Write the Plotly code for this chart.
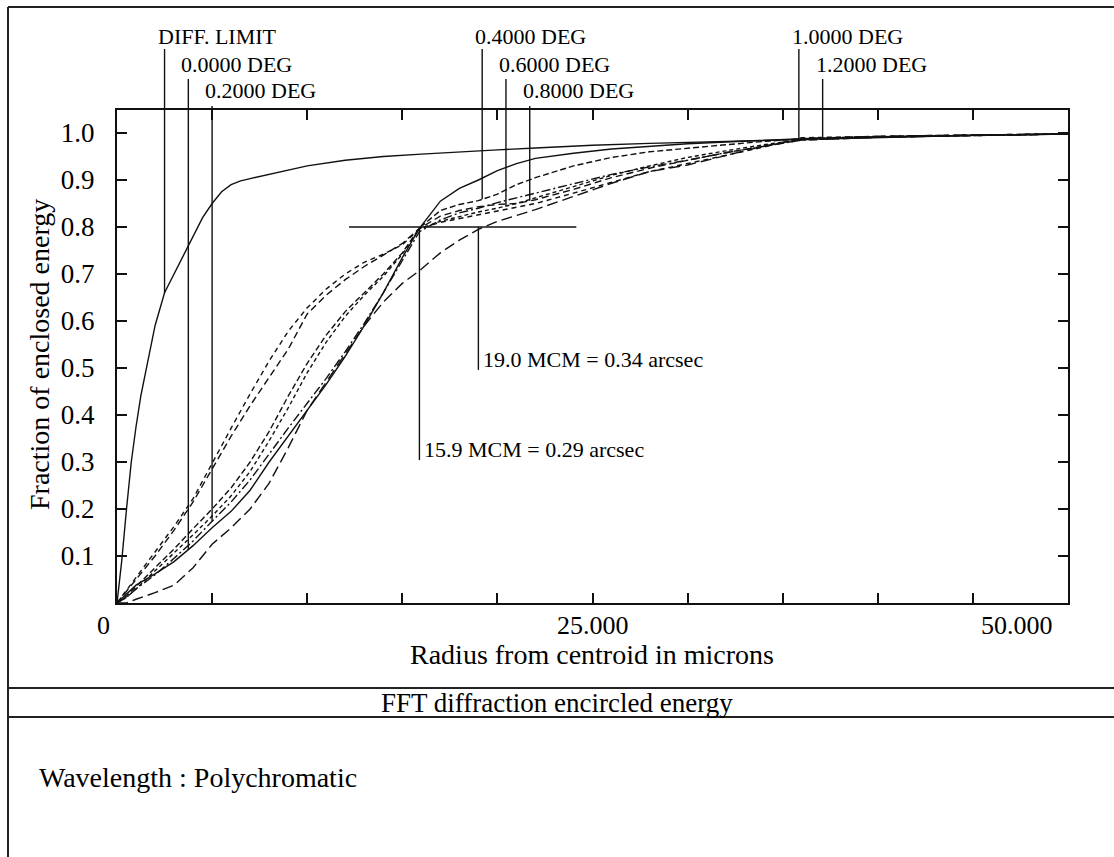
import plotly.graph_objects as go
import numpy as np

W, H = 1114, 857

# ---------------- data ----------------
radius_diff = [0, 0.25, 0.5, 0.75, 1.0, 1.25, 1.5, 1.75, 2.0, 2.5, 3.0, 3.5, 4.0, 4.5, 5.0, 5.5,
               6.0, 6.5, 7.0, 8.0, 9.0, 10.0, 12.0, 14.0, 16.0, 18.0, 20.0, 22.0, 25.0, 28.0,
               31.0, 35.0, 40.0, 45.0, 50.0]
ee_diff = [0, 0.09, 0.20, 0.30, 0.375, 0.44, 0.49, 0.54, 0.59, 0.66, 0.70, 0.74, 0.78, 0.82, 0.85,
           0.875, 0.89, 0.898, 0.903, 0.912, 0.921, 0.93, 0.942, 0.95, 0.955, 0.96, 0.964, 0.968,
           0.974, 0.978, 0.981, 0.986, 0.991, 0.995, 0.998]

radius_field = [0, 0.5, 1, 2, 3, 4, 5, 6, 7, 8, 9, 10, 11, 12, 13, 14, 15, 15.9, 17, 18, 19, 20,
                21, 22, 24, 26, 28, 30, 32, 34, 36, 40, 45, 50]
ee_f00 = [0, 0.02, 0.038, 0.062, 0.088, 0.122, 0.16, 0.195, 0.24, 0.30, 0.355, 0.41, 0.465, 0.525,
          0.59, 0.66, 0.735, 0.797, 0.855, 0.882, 0.90, 0.92, 0.935, 0.946, 0.957, 0.966, 0.972,
          0.977, 0.981, 0.985, 0.988, 0.992, 0.995, 0.998]
ee_f02 = [0, 0.012, 0.03, 0.06, 0.095, 0.132, 0.174, 0.215, 0.262, 0.318, 0.372, 0.425, 0.478,
          0.535, 0.595, 0.66, 0.73, 0.79, 0.815, 0.83, 0.84, 0.852, 0.862, 0.872, 0.893, 0.912,
          0.928, 0.942, 0.958, 0.972, 0.985, 0.991, 0.995, 0.998]
ee_f04 = [0, 0.015, 0.035, 0.075, 0.115, 0.158, 0.20, 0.245, 0.30, 0.365, 0.44, 0.51, 0.57, 0.62,
          0.66, 0.70, 0.745, 0.798, 0.835, 0.848, 0.856, 0.87, 0.89, 0.905, 0.93, 0.948, 0.96,
          0.968, 0.975, 0.982, 0.988, 0.992, 0.995, 0.998]
ee_f06 = [0, 0.012, 0.03, 0.068, 0.105, 0.145, 0.185, 0.228, 0.28, 0.345, 0.415, 0.49, 0.555,
          0.61, 0.655, 0.695, 0.742, 0.796, 0.812, 0.822, 0.832, 0.84, 0.85, 0.862, 0.886, 0.91,
          0.93, 0.948, 0.962, 0.975, 0.986, 0.991, 0.995, 0.998]
ee_f08 = [0, 0.025, 0.05, 0.10, 0.155, 0.215, 0.285, 0.355, 0.42, 0.48, 0.54, 0.615, 0.655, 0.688,
          0.716, 0.74, 0.765, 0.797, 0.823, 0.835, 0.843, 0.848, 0.85, 0.858, 0.88, 0.905, 0.925,
          0.942, 0.958, 0.972, 0.985, 0.991, 0.995, 0.998]
ee_f10 = [0, 0.027, 0.054, 0.108, 0.163, 0.222, 0.298, 0.372, 0.445, 0.515, 0.578, 0.628, 0.668,
          0.70, 0.725, 0.742, 0.762, 0.796, 0.81, 0.818, 0.825, 0.833, 0.842, 0.85, 0.872, 0.895,
          0.918, 0.935, 0.952, 0.97, 0.99, 0.993, 0.996, 0.998]
ee_f12 = [0, 0.0, 0.008, 0.022, 0.038, 0.075, 0.125, 0.16, 0.20, 0.255, 0.33, 0.41, 0.47, 0.53,
          0.59, 0.64, 0.68, 0.707, 0.745, 0.772, 0.795, 0.812, 0.825, 0.837, 0.865, 0.893, 0.918,
          0.932, 0.952, 0.972, 0.988, 0.993, 0.996, 0.998]

series_names = ["DIFF. LIMIT", "0.0000 DEG", "0.2000 DEG", "0.4000 DEG", "0.6000 DEG",
                "0.8000 DEG", "1.0000 DEG", "1.2000 DEG"]
series_x = [radius_diff] + [radius_field] * 7
series_y = [ee_diff, ee_f00, ee_f02, ee_f04, ee_f06, ee_f08, ee_f10, ee_f12]
series_dash = ["solid", "solid", "9px,3px,2px,3px", "6px,3px", "4px,3px", "7px,4px", "5px,4px", "11px,5px"]

label_radius = [2.5, 3.75, 5.0, 19.2, 20.45, 21.7, 35.85, 37.1]   # where each label's leader meets its curve
label_row = [0, 1, 2, 0, 1, 2, 0, 1]

x_tick_vals = [0, 25, 50]
x_tick_text = ["0", "25.000", "50.000"]
y_tick_vals = [0.1, 0.2, 0.3, 0.4, 0.5, 0.6, 0.7, 0.8, 0.9, 1.0]
y_tick_text = ["0.1", "0.2", "0.3", "0.4", "0.5", "0.6", "0.7", "0.8", "0.9", "1.0"]

ee_level = 0.8
ee_radii = [15.9, 19.0]
ee_text = ["15.9 MCM = 0.29 arcsec", "19.0 MCM = 0.34 arcsec"]
ee_text_level = [0.304, 0.496]
ee_hline_span = [12.2, 24.15]

# ---------------- layout geometry (pixels) ----------------
PX_L, PX_R, PX_T, PX_B = 117, 1068, 110, 603
PX_PER_UNIT_Y = 470.0
FONT = "Liberation Serif"
INK = "#111111"
LW = 1.4

x_dom = [PX_L / W, PX_R / W]
y_dom = [(H - PX_B) / H, (H - PX_T) / H]
y_top = (PX_B - PX_T) / PX_PER_UNIT_Y
y2_top = PX_B / PX_PER_UNIT_Y

fig = go.Figure()

for name, xs, ys, dash in zip(series_names, series_x, series_y, series_dash):
    fig.add_trace(go.Scatter(x=xs, y=ys, mode="lines", name=name,
                             line=dict(color=INK, width=LW, dash=dash),
                             xaxis="x", yaxis="y", showlegend=False, hoverinfo="skip"))

# 80% encircled energy cross-hair
fig.add_trace(go.Scatter(x=ee_hline_span, y=[ee_level, ee_level], mode="lines",
                         line=dict(color=INK, width=LW), showlegend=False, hoverinfo="skip"))
annotations = []
for r, t, yl in zip(ee_radii, ee_text, ee_text_level):
    fig.add_trace(go.Scatter(x=[r, r], y=[ee_level, yl], mode="lines",
                             line=dict(color=INK, width=LW), showlegend=False, hoverinfo="skip"))
    annotations.append(dict(x=r, y=yl, xref="x", yref="y", text=t, showarrow=False,
                            xanchor="left", yanchor="bottom", xshift=3, yshift=-4,
                            font=dict(family=FONT, size=22, color="black")))

# leader lines from labels down to the curves (drawn on an extended y-axis)
row_top_px = [49, 79, 106]
row_text_px = [36, 64, 90]
for name, lx, row, xs, ys in zip(series_names, label_radius, label_row, series_x, series_y):
    yc = float(np.interp(lx, xs, ys))
    ytop = (PX_B - row_top_px[row]) / PX_PER_UNIT_Y
    fig.add_trace(go.Scatter(x=[lx, lx], y=[ytop, yc], mode="lines",
                             line=dict(color=INK, width=LW),
                             xaxis="x", yaxis="y2", showlegend=False, hoverinfo="skip"))
    annotations.append(dict(x=lx, y=(PX_B - row_text_px[row]) / PX_PER_UNIT_Y, xref="x", yref="y2",
                            text=name, showarrow=False, xanchor="left", yanchor="middle",
                            xshift=-9, font=dict(family=FONT, size=22, color="black")))

# x tick labels
x_shift = [-14, 0, -51]
for v, t, s in zip(x_tick_vals, x_tick_text, x_shift):
    annotations.append(dict(x=v, y=1 - 625 / H, xref="x", yref="paper", text=t, showarrow=False,
                            xanchor="center", yanchor="middle", xshift=s,
                            font=dict(family=FONT, size=26, color="black")))

# titles / footer texts
annotations += [
    dict(x=592 / W, y=1 - 654 / H, xref="paper", yref="paper", text="Radius from centroid in microns",
         showarrow=False, xanchor="center", yanchor="middle", font=dict(family=FONT, size=28, color="black")),
    dict(x=40 / W, y=1 - 355 / H, xref="paper", yref="paper", text="Fraction of enclosed energy",
         showarrow=False, textangle=-90, xanchor="center", yanchor="middle",
         font=dict(family=FONT, size=28, color="black")),
    dict(x=557 / W, y=1 - 703 / H, xref="paper", yref="paper", text="FFT diffraction encircled energy",
         showarrow=False, xanchor="center", yanchor="middle", font=dict(family=FONT, size=27, color="black")),
    dict(x=37 / W, y=1 - 777 / H, xref="paper", yref="paper", text="Wavelength : Polychromatic",
         showarrow=False, xanchor="left", yanchor="middle", font=dict(family=FONT, size=28, color="black")),
]

frame = dict(color="#222222", width=2)
shapes = [
    dict(type="line", xref="paper", yref="paper", x0=8 / W, x1=1, y0=1 - 7 / H, y1=1 - 7 / H, line=frame),
    dict(type="line", xref="paper", yref="paper", x0=8 / W, x1=8 / W, y0=0, y1=1 - 7 / H, line=frame),
    dict(type="line", xref="paper", yref="paper", x0=8 / W, x1=1, y0=1 - 688 / H, y1=1 - 688 / H, line=frame),
    dict(type="line", xref="paper", yref="paper", x0=8 / W, x1=1, y0=1 - 717 / H, y1=1 - 717 / H, line=frame),
]

fig.update_layout(
    width=W, height=H, margin=dict(l=0, r=0, t=0, b=0),
    paper_bgcolor="white", plot_bgcolor="rgba(0,0,0,0)", showlegend=False,
    font=dict(family=FONT, color="black"),
    xaxis=dict(domain=x_dom, range=[0, 50], tickvals=list(range(0, 51, 5)), showticklabels=False,
               ticks="inside", ticklen=10, tickwidth=1.5, tickcolor=INK,
               showline=True, linecolor=INK, linewidth=2, mirror="ticks",
               showgrid=False, zeroline=False, anchor="y", fixedrange=True),
    yaxis=dict(domain=y_dom, range=[0, y_top], tickvals=y_tick_vals, ticktext=y_tick_text,
               ticks="inside", ticklen=10, tickwidth=1.5, tickcolor=INK,
               showline=True, linecolor=INK, linewidth=2, mirror="ticks",
               showgrid=False, zeroline=False, anchor="x",
               tickfont=dict(family=FONT, size=27, color="black"), ticklabelstandoff=15, fixedrange=True),
    yaxis2=dict(domain=[y_dom[0], 1.0], range=[0, y2_top], visible=False, anchor="x", fixedrange=True,
                showgrid=False, zeroline=False),
    annotations=annotations, shapes=shapes,
)

fig.write_html("out.html")
